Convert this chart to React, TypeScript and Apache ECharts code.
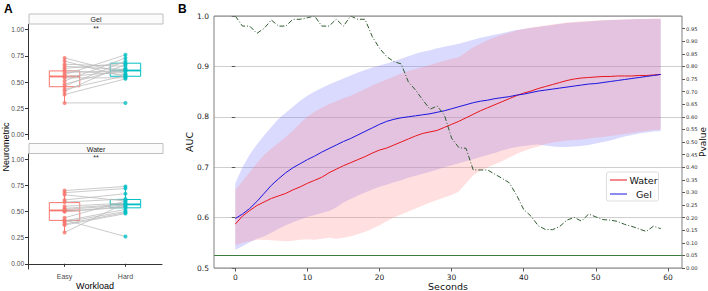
import React, { useEffect, useRef } from 'react';
import * as echarts from 'echarts';

// ---------- Panel B data ----------
const seconds = [0,1,2,3,4,5,6,7,8,9,10,11,12,13,14,15,16,17,18,19,20,21,22,23,24,25,26,27,28,29,30,31,32,33,34,35,36,37,38,39,40,41,42,43,44,45,46,47,48,49,50,51,52,53,54,55,56,57,58,59];
const waterMean = [
  0.587,0.603,0.614,0.624,0.631,0.638,0.643,0.648,0.655,0.661,
  0.668,0.674,0.680,0.689,0.696,0.703,0.709,0.715,0.721,0.728,
  0.734,0.738,0.744,0.750,0.756,0.762,0.767,0.770,0.773,0.779,
  0.785,0.791,0.798,0.805,0.812,0.818,0.824,0.830,0.836,0.842,
  0.847,0.851,0.856,0.860,0.864,0.868,0.872,0.875,0.877,0.878,
  0.879,0.880,0.880,0.881,0.881,0.881,0.882,0.882,0.883,0.884];
const gelMean = [
  0.598,0.607,0.618,0.632,0.648,0.664,0.677,0.689,0.699,0.707,
  0.715,0.722,0.730,0.737,0.744,0.751,0.757,0.764,0.771,0.778,
  0.785,0.791,0.795,0.798,0.800,0.802,0.804,0.806,0.809,0.812,
  0.816,0.820,0.824,0.828,0.831,0.833,0.836,0.838,0.840,0.843,
  0.845,0.848,0.851,0.853,0.855,0.857,0.859,0.861,0.863,0.865,
  0.866,0.868,0.870,0.872,0.874,0.876,0.878,0.880,0.882,0.884];
const gelHigh = [
  0.668,0.700,0.725,0.745,0.763,0.780,0.796,0.808,0.820,0.832,
  0.842,0.850,0.857,0.864,0.870,0.876,0.882,0.888,0.893,0.898,
  0.902,0.906,0.910,0.915,0.920,0.925,0.929,0.932,0.936,0.939,
  0.942,0.945,0.949,0.953,0.957,0.960,0.963,0.966,0.969,0.972,
  0.974,0.976,0.978,0.980,0.982,0.984,0.986,0.987,0.988,0.989,
  0.990,0.991,0.992,0.992,0.993,0.993,0.994,0.994,0.994,0.994];
const waterHigh = [
  0.655,0.672,0.690,0.708,0.724,0.737,0.748,0.760,0.773,0.787,
  0.800,0.810,0.818,0.825,0.831,0.837,0.842,0.848,0.855,0.862,
  0.868,0.874,0.880,0.886,0.891,0.895,0.899,0.903,0.907,0.911,
  0.915,0.918,0.928,0.938,0.945,0.952,0.958,0.963,0.967,0.971,
  0.974,0.977,0.979,0.981,0.983,0.985,0.987,0.988,0.989,0.990,
  0.991,0.992,0.992,0.993,0.993,0.994,0.994,0.994,0.995,0.995];
const gelLow = [
  0.536,0.543,0.551,0.558,0.563,0.570,0.578,0.585,0.591,0.596,
  0.601,0.605,0.609,0.613,0.620,0.630,0.637,0.644,0.650,0.656,
  0.661,0.665,0.670,0.674,0.679,0.683,0.687,0.691,0.695,0.700,
  0.704,0.708,0.712,0.716,0.720,0.724,0.728,0.733,0.737,0.740,
  0.742,0.744,0.745,0.743,0.741,0.740,0.740,0.741,0.742,0.744,
  0.747,0.750,0.753,0.757,0.761,0.764,0.767,0.769,0.771,0.772];
const waterLow = [
  0.545,0.550,0.553,0.556,0.556,0.555,0.554,0.553,0.554,0.556,
  0.557,0.556,0.558,0.560,0.558,0.560,0.563,0.567,0.572,0.578,
  0.585,0.593,0.600,0.606,0.612,0.618,0.624,0.630,0.635,0.640,
  0.645,0.652,0.668,0.684,0.693,0.700,0.706,0.712,0.719,0.726,
  0.732,0.737,0.741,0.746,0.749,0.751,0.753,0.754,0.755,0.757,
  0.759,0.760,0.762,0.764,0.766,0.768,0.770,0.772,0.774,0.775];
const pValues = [
  1.000,0.960,0.960,0.931,0.951,0.984,0.960,0.960,0.987,0.987,
  0.993,1.000,0.960,0.960,0.987,0.960,1.000,0.987,0.987,0.918,
  0.872,0.839,0.819,0.810,0.739,0.706,0.667,0.630,0.643,0.607,
  0.515,0.478,0.475,0.389,0.389,0.389,0.372,0.356,0.338,0.290,
  0.232,0.206,0.168,0.153,0.152,0.165,0.190,0.201,0.186,0.214,
  0.203,0.192,0.190,0.185,0.173,0.165,0.155,0.145,0.166,0.156];
const pThreshold = 0.05;
const secondTicks = [0, 10, 20, 30, 40, 50, 60];
const pTicks = [0,0.05,0.1,0.15,0.2,0.25,0.3,0.35,0.4,0.45,0.5,0.55,0.6,0.65,0.7,0.75,0.8,0.85,0.9,0.95];

// ---------- Panel A data ----------
const workloadLabels = ['Easy', 'Hard'];
const workloadPos = [1, 2];
const neuroTicks = [0, 0.25, 0.5, 0.75, 1.0];
const gelEasy = [0.73,0.70,0.67,0.65,0.63,0.61,0.59,0.57,0.55,0.54,0.51,0.48,0.46,0.43,0.41,0.38,0.30];
const gelHard = [0.58,0.55,0.65,0.62,0.68,0.57,0.61,0.76,0.60,0.54,0.73,0.63,0.70,0.56,0.67,0.53,0.30];
const waterEasy = [0.70,0.68,0.66,0.61,0.59,0.55,0.53,0.52,0.50,0.50,0.44,0.42,0.41,0.40,0.38,0.37,0.30];
const waterHard = [0.74,0.72,0.60,0.67,0.62,0.58,0.57,0.56,0.54,0.55,0.60,0.26,0.52,0.50,0.49,0.48,0.58];
// [lower whisker, q1, median, q3, upper whisker]
const gelBoxEasy = [0.30, 0.455, 0.553, 0.606, 0.73];
const gelBoxHard = [0.53, 0.555, 0.610, 0.680, 0.76];
const waterBoxEasy = [0.30, 0.415, 0.510, 0.585, 0.70];
const waterBoxHard = [0.48, 0.535, 0.568, 0.615, 0.75];

const EASY = '#F8766D';
const HARD = '#00BFC4';
const fontA = '"Liberation Sans", Arial, sans-serif';
const fontB = '"DejaVu Sans", sans-serif';

function boxRender(params: any, api: any) {
  const x = api.value(0);
  const lo = api.value(1), q1 = api.value(2), med = api.value(3), q3 = api.value(4), hi = api.value(5);
  const color = params.dataIndex === 0 ? EASY : HARD;
  const half = 0.25;
  const tl = api.coord([x - half, q3]);
  const br = api.coord([x + half, q1]);
  const ml = api.coord([x - half, med]);
  const mr = api.coord([x + half, med]);
  const pLo = api.coord([x, lo]);
  const pQ1 = api.coord([x, q1]);
  const pQ3 = api.coord([x, q3]);
  const pHi = api.coord([x, hi]);
  return {
    type: 'group',
    children: [
      { type: 'rect', shape: { x: tl[0], y: tl[1], width: br[0] - tl[0], height: br[1] - tl[1] }, style: { fill: 'none', stroke: color, lineWidth: 1 } },
      { type: 'line', shape: { x1: ml[0], y1: ml[1], x2: mr[0], y2: mr[1] }, style: { stroke: color, lineWidth: 1.8 } },
      { type: 'line', shape: { x1: pLo[0], y1: pLo[1], x2: pQ1[0], y2: pQ1[1] }, style: { stroke: color, lineWidth: 1 } },
      { type: 'line', shape: { x1: pQ3[0], y1: pQ3[1], x2: pHi[0], y2: pHi[1] }, style: { stroke: color, lineWidth: 1 } },
    ],
  };
}

function pairRender(params: any, api: any) {
  const a = api.coord([workloadPos[0], api.value(0)]);
  const b = api.coord([workloadPos[1], api.value(1)]);
  return { type: 'line', shape: { x1: a[0], y1: a[1], x2: b[0], y2: b[1] }, style: { stroke: '#bcbcbc', lineWidth: 0.8 } };
}

function bandRender(low: number[], high: number[], fill: string, opacity: number) {
  return (params: any, api: any) => {
    if (params.dataIndex !== 0) return null;
    const pts: number[][] = [];
    for (let i = 0; i < seconds.length; i++) pts.push(api.coord([seconds[i], high[i]]));
    for (let i = seconds.length - 1; i >= 0; i--) pts.push(api.coord([seconds[i], low[i]]));
    return { type: 'polygon', shape: { points: pts }, style: { fill, opacity } };
  };
}

function panelAAxes(gridIndex: number, showX: boolean) {
  const x = {
    type: 'value', gridIndex, min: 0.4, max: 2.6,
    axisLine: { show: showX, lineStyle: { color: '#333333', width: 1 } },
    axisTick: { show: showX, length: 3, customValues: workloadPos, lineStyle: { color: '#333333' } },
    axisLabel: {
      show: showX, customValues: workloadPos, fontFamily: fontA, fontSize: 7, color: '#4d4d4d', margin: 4,
      formatter: (v: number) => workloadLabels[workloadPos.indexOf(v)] ?? '',
    },
    splitLine: { show: false },
    name: showX ? 'Workload' : '', nameLocation: 'middle', nameGap: 12, nameMoveOverlap: false,
    nameTextStyle: { fontFamily: fontA, fontSize: 9, color: '#000' },
  };
  const y = {
    type: 'value', gridIndex, min: -0.05, max: 1.05,
    axisLine: { show: true, lineStyle: { color: '#333333', width: 1 } },
    axisTick: { show: true, length: 3, customValues: neuroTicks, lineStyle: { color: '#333333' } },
    axisLabel: { customValues: neuroTicks, fontFamily: fontA, fontSize: 6.5, color: '#4d4d4d', margin: 4, formatter: (v: number) => v.toFixed(2) },
    splitLine: { show: false },
  };
  return { x, y };
}

export default function App() {
  const ref = useRef<HTMLDivElement>(null);
  useEffect(() => {
    if (!ref.current) return;
    const chart = echarts.init(ref.current, null, { renderer: 'svg' });
    const aTop = panelAAxes(0, false);
    const aBot = panelAAxes(1, true);

    const option: any = {
      animation: false,
      backgroundColor: '#ffffff',
      grid: [
        { left: 28, top: 24.5, width: 134, height: 115, outerBoundsMode: 'none' },
        { left: 28, top: 154, width: 134, height: 115, outerBoundsMode: 'none' },
        { left: 214, top: 16, width: 468, height: 252, outerBoundsMode: 'none' },
      ],
      xAxis: [
        aTop.x,
        aBot.x,
        {
          type: 'value', gridIndex: 2, min: -2.95, max: 61.95,
          axisLine: { show: false },
          axisTick: { show: true, length: 3.5, customValues: secondTicks, lineStyle: { color: '#555' } },
          axisLabel: { customValues: secondTicks, fontFamily: fontB, fontSize: 7.5, color: '#222', margin: 5 },
          splitLine: { show: false },
          name: 'Seconds', nameLocation: 'middle', nameGap: 13, nameMoveOverlap: false,
          nameTextStyle: { fontFamily: fontB, fontSize: 9.5, color: '#111' },
        },
      ],
      yAxis: [
        aTop.y,
        aBot.y,
        {
          type: 'value', gridIndex: 2, min: 0.5, max: 1.0, interval: 0.1,
          axisLine: { show: false },
          axisTick: { show: true, length: 3.5, lineStyle: { color: '#555' } },
          axisLabel: { fontFamily: fontB, fontSize: 7.5, color: '#222', margin: 5, formatter: (v: number) => v.toFixed(1) },
          splitLine: { show: true, lineStyle: { color: '#cfcfcf', width: 1 } },
          name: 'AUC', nameLocation: 'middle', nameGap: 20, nameRotate: 90, nameMoveOverlap: false,
          nameTextStyle: { fontFamily: fontB, fontSize: 9.5, color: '#111' },
        },
        {
          type: 'value', gridIndex: 2, min: 0, max: 1.0, position: 'right',
          axisLine: { show: false },
          axisTick: { show: true, length: 3, customValues: pTicks, lineStyle: { color: '#555' } },
          axisLabel: { customValues: pTicks, fontFamily: fontB, fontSize: 5.2, color: '#333', margin: 4, formatter: (v: number) => v.toFixed(2) },
          splitLine: { show: false },
          name: 'Pvalue', nameLocation: 'middle', nameGap: 16, nameRotate: 90, nameMoveOverlap: false,
          nameTextStyle: { fontFamily: fontB, fontSize: 9, color: '#111' },
        },
      ],
      series: [
        // Panel A - Gel
        { type: 'custom', xAxisIndex: 0, yAxisIndex: 0, z: 2, renderItem: boxRender, data: [[workloadPos[0], ...gelBoxEasy], [workloadPos[1], ...gelBoxHard]] },
        { type: 'custom', xAxisIndex: 0, yAxisIndex: 0, z: 3, renderItem: pairRender, data: gelEasy.map((e, i) => [e, gelHard[i]]) },
        { type: 'scatter', xAxisIndex: 0, yAxisIndex: 0, z: 4, symbolSize: 4, itemStyle: { color: EASY }, data: gelEasy.map((v) => [workloadPos[0], v]) },
        { type: 'scatter', xAxisIndex: 0, yAxisIndex: 0, z: 4, symbolSize: 4, itemStyle: { color: HARD }, data: gelHard.map((v) => [workloadPos[1], v]) },
        // Panel A - Water
        { type: 'custom', xAxisIndex: 1, yAxisIndex: 1, z: 2, renderItem: boxRender, data: [[workloadPos[0], ...waterBoxEasy], [workloadPos[1], ...waterBoxHard]] },
        { type: 'custom', xAxisIndex: 1, yAxisIndex: 1, z: 3, renderItem: pairRender, data: waterEasy.map((e, i) => [e, waterHard[i]]) },
        { type: 'scatter', xAxisIndex: 1, yAxisIndex: 1, z: 4, symbolSize: 4, itemStyle: { color: EASY }, data: waterEasy.map((v) => [workloadPos[0], v]) },
        { type: 'scatter', xAxisIndex: 1, yAxisIndex: 1, z: 4, symbolSize: 4, itemStyle: { color: HARD }, data: waterHard.map((v) => [workloadPos[1], v]) },
        // Panel B bands
        { type: 'custom', xAxisIndex: 2, yAxisIndex: 2, z: 1, silent: true, renderItem: bandRender(gelLow, gelHigh, '#7b7bff', 0.28), data: seconds.map((s, i) => [s, gelLow[i], gelHigh[i]]) },
        { type: 'custom', xAxisIndex: 2, yAxisIndex: 2, z: 1, silent: true, renderItem: bandRender(waterLow, waterHigh, '#ff8080', 0.25), data: seconds.map((s, i) => [s, waterLow[i], waterHigh[i]]) },
        // Panel B lines
        { type: 'line', name: 'Water', xAxisIndex: 2, yAxisIndex: 2, z: 3, showSymbol: false, lineStyle: { color: '#e8151b', width: 1 }, itemStyle: { color: '#e8151b' }, data: seconds.map((s, i) => [s, waterMean[i]]) },
        { type: 'line', name: 'Gel', xAxisIndex: 2, yAxisIndex: 2, z: 3, showSymbol: false, lineStyle: { color: '#1a14e0', width: 1 }, itemStyle: { color: '#1a14e0' }, data: seconds.map((s, i) => [s, gelMean[i]]) },
        {
          type: 'line', name: 'Pvalue', xAxisIndex: 2, yAxisIndex: 3, z: 3, showSymbol: false,
          lineStyle: { color: '#2f5c2f', width: 1, type: [5, 2, 1, 2] }, itemStyle: { color: '#2f5c2f' },
          data: seconds.map((s, i) => [s, pValues[i]]),
          markLine: {
            silent: true, symbol: 'none', label: { show: false },
            lineStyle: { color: '#3d7d3d', width: 1.2, type: 'solid' },
            data: [{ yAxis: pThreshold }],
          },
        },
      ],
      graphic: [
        { type: 'text', x: 4, y: 3, style: { text: 'A', font: 'bold 12px "Liberation Sans", Arial, sans-serif', fill: '#000' } },
        { type: 'text', x: 178, y: 3, style: { text: 'B', font: 'bold 12px "Liberation Sans", Arial, sans-serif', fill: '#000' } },
        // strips
        { type: 'rect', shape: { x: 29, y: 14, width: 134, height: 10 }, style: { fill: '#fbfbfb', stroke: '#b0b0b0', lineWidth: 0.8 } },
        { type: 'text', x: 96, y: 19.5, style: { text: 'Gel', font: '7px "Liberation Sans", Arial, sans-serif', fill: '#1a1a1a', align: 'center', verticalAlign: 'middle' } },
        { type: 'text', x: 96, y: 28, style: { text: '**', font: '7px "Liberation Sans", Arial, sans-serif', fill: '#222', align: 'center', verticalAlign: 'middle' } },
        { type: 'rect', shape: { x: 29, y: 143.5, width: 134, height: 10 }, style: { fill: '#fbfbfb', stroke: '#b0b0b0', lineWidth: 0.8 } },
        { type: 'text', x: 96, y: 149, style: { text: 'Water', font: '7px "Liberation Sans", Arial, sans-serif', fill: '#1a1a1a', align: 'center', verticalAlign: 'middle' } },
        { type: 'text', x: 96, y: 157.5, style: { text: '**', font: '7px "Liberation Sans", Arial, sans-serif', fill: '#222', align: 'center', verticalAlign: 'middle' } },
        { type: 'text', x: 6, y: 147, rotation: Math.PI / 2, style: { text: 'Neurometric', font: '9px "Liberation Sans", Arial, sans-serif', fill: '#000', align: 'center', verticalAlign: 'middle' } },
        // frame of panel B
        { type: 'rect', z: 100, shape: { x: 214, y: 16, width: 468, height: 252 }, style: { fill: 'none', stroke: '#808080', lineWidth: 1 } },
        // legend
        { type: 'rect', z: 101, shape: { x: 606.5, y: 172, width: 52, height: 29, r: 2 }, style: { fill: 'rgba(255,255,255,0.85)', stroke: '#d6d6d6', lineWidth: 0.8 } },
        { type: 'line', z: 102, shape: { x1: 610, y1: 180, x2: 627, y2: 180 }, style: { stroke: '#e8151b', lineWidth: 1 } },
        { type: 'text', z: 102, x: 629.5, y: 180, style: { text: 'Water', font: '9.5px "DejaVu Sans", sans-serif', fill: '#111', verticalAlign: 'middle' } },
        { type: 'line', z: 102, shape: { x1: 610, y1: 194, x2: 627, y2: 194 }, style: { stroke: '#1a14e0', lineWidth: 1 } },
        { type: 'text', z: 102, x: 636, y: 194, style: { text: 'Gel', font: '9.5px "DejaVu Sans", sans-serif', fill: '#111', verticalAlign: 'middle' } },
      ],
    };
    chart.setOption(option);
    return () => chart.dispose();
  }, []);
  return <div ref={ref} style={{ position: 'fixed', left: 0, top: 0, width: 708, height: 291 }} />;
}
